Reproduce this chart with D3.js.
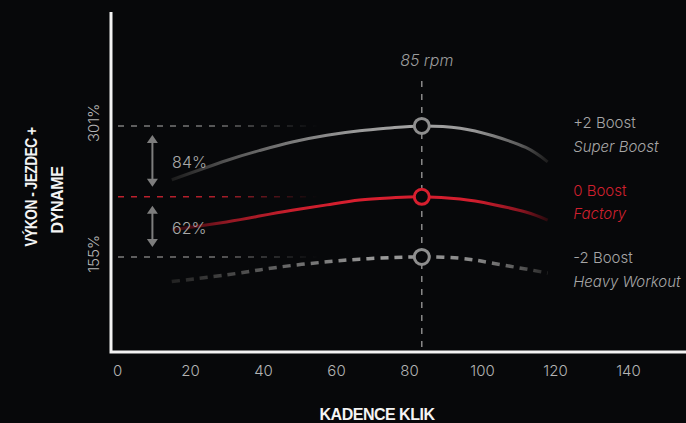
<!DOCTYPE html>
<html><head><meta charset="utf-8">
<script src="https://cdn.jsdelivr.net/npm/d3@7"></script>
<style>
html,body{margin:0;padding:0;background:#07080a;}
svg{display:block;}
</style></head><body>
<script>
// ---- data ----
const cadence      = [15, 30, 39, 48, 57.5, 66.5, 75.5, 83.5, 94, 103, 112, 118];
const superBoost   = [241, 262.5, 273.5, 283, 290.5, 295.5, 299, 301, 298.5, 290, 277, 261];
const factory      = [185, 194, 200.5, 207, 213, 218.5, 221, 222, 219.5, 213.5, 205, 196];
const heavyWorkout = [127.5, 135, 140.5, 145.5, 149.5, 152.5, 154.2, 155, 153.5, 148, 141.5, 137];
const xTicks = [0, 20, 40, 60, 80, 100, 120, 140];
const yTicks = [301, 155];
const yTickLabels = ["301%", "155%"];
const refLevels = [301, 222, 155];
const peakCadence = 83.5;
const peakLabel = "85 rpm";
const gapFrom = [301, 222];
const gapTo = [222, 155];
const gapLabels = ["84%", "62%"];
const legendTop = ["+2 Boost", "0 Boost", "-2 Boost"];
const legendSub = ["Super Boost", "Factory", "Heavy Workout"];
const xTitle = "KADENCE KLIK";
const yTitle = ["VÝKON - JEZDEC +", "DYNAME"];

// ---- layout ----
const W = 686, H = 423;
const BG = "#07080a";
const GRAY = "#8e8e8e", RED = "#d81f2f";
const LIGHT = "Inter, 'Open Sans', Roboto, sans-serif";
const BOLD = "'Liberation Sans', Arial, sans-serif";

const x = d3.scaleLinear().domain([0, 140]).range([117, 628]);
const y = d3.scaleLinear().domain([49, 428]).range([352, 12]);
const frameLeft = 111;

const svg = d3.select("body").append("svg").attr("width", W).attr("height", H)
  .style("background", BG);
const defs = svg.append("defs");

function grad(id, x1, x2, stops) {
  const g = defs.append("linearGradient").attr("id", id)
    .attr("gradientUnits", "userSpaceOnUse")
    .attr("x1", x1).attr("x2", x2).attr("y1", 0).attr("y2", 0);
  stops.forEach(s => g.append("stop").attr("offset", s[0])
    .attr("stop-color", s[1]).attr("stop-opacity", s[2] == null ? 1 : s[2]));
}

// reference dashed lines
const refX1 = x(0) + 1, refX2 = x(55);
grad("refGray", refX1, refX2, [[0, "#7c7c7c"], [0.5, "#7c7c7c", 0.9], [1, "#7c7c7c", 0]]);
grad("refRed", refX1, refX2, [[0, "#c0202d"], [0.5, "#c0202d", 0.9], [1, "#c0202d", 0]]);
svg.append("g").selectAll("line").data(refLevels).join("line")
  .attr("x1", refX1).attr("x2", refX2)
  .attr("y1", d => y(d)).attr("y2", d => y(d))
  .attr("stroke", (d, i) => i === 1 ? "url(#refRed)" : "url(#refGray)")
  .attr("stroke-width", 1.5).attr("stroke-dasharray", "6,7");

// vertical peak line
svg.append("line")
  .attr("x1", x(peakCadence)).attr("x2", x(peakCadence))
  .attr("y1", y(351)).attr("y2", y(49))
  .attr("stroke", "#8a8a8a").attr("stroke-width", 1.5).attr("stroke-dasharray", "6,7");

svg.append("text").attr("x", x(peakCadence) + 5).attr("y", 66)
  .attr("text-anchor", "middle").attr("font-family", LIGHT).attr("font-weight", 300)
  .attr("font-style", "italic").attr("font-size", 16).attr("fill", "#9c9c9c")
  .text(peakLabel);

// curves
const cx1 = x(cadence[0]), cx2 = x(cadence[cadence.length - 1]);
grad("gTop", cx1, cx2, [[0, "#1c1c1c"], [0.15, "#555"], [0.32, "#7a7a7a"], [0.5, "#9a9a9a"],
  [0.65, "#a4a4a4"], [0.8, "#989898"], [0.93, "#5a5a5a"], [1, "#1c1c1c"]]);
grad("gRed", cx1, cx2, [[0, "#2a080c"], [0.05, "#4a0c14"], [0.15, "#921823"], [0.32, "#c81e2c"],
  [0.5, "#d81f2f"], [0.8, "#d21e2e"], [0.93, "#8a1420"], [1, "#2a0a0e"]]);
grad("gLow", cx1, cx2, [[0, "#222"], [0.15, "#444"], [0.32, "#6a6a6a"], [0.55, "#9a9a9a"],
  [0.8, "#8a8a8a"], [0.93, "#555"], [1, "#262626"]]);

const line = d3.line().x(d => x(d[0])).y(d => y(d[1])).curve(d3.curveNatural);
const series = [
  {vals: superBoost, stroke: "url(#gTop)", dash: null, mark: GRAY},
  {vals: factory, stroke: "url(#gRed)", dash: null, mark: RED},
  {vals: heavyWorkout, stroke: "url(#gLow)", dash: "8,6", mark: GRAY}
];
series.forEach(s => {
  svg.append("path").datum(cadence.map((c, i) => [c, s.vals[i]]))
    .attr("d", line).attr("fill", "none").attr("stroke", s.stroke)
    .attr("stroke-width", s.dash ? 3.5 : 3).attr("stroke-dasharray", s.dash)
    .attr("stroke-linecap", "butt");
});
// peak markers
svg.append("g").selectAll("circle").data(series).join("circle")
  .attr("cx", x(peakCadence))
  .attr("cy", s => y(s.vals[cadence.indexOf(peakCadence)]))
  .attr("r", 7.5).attr("fill", BG).attr("stroke", s => s.mark).attr("stroke-width", 3);

// gap arrows
const ax = x(9.7);
gapFrom.forEach((f, i) => {
  const t = gapTo[i];
  const y1 = y(f) + 9, y2 = y(t) - 10;
  const g = svg.append("g").attr("fill", "#7d7d7d");
  g.append("line").attr("x1", ax).attr("x2", ax).attr("y1", y1 + 6).attr("y2", y2 - 6)
    .attr("stroke", "#7d7d7d").attr("stroke-width", 2);
  g.append("path").attr("d", `M${ax},${y1}L${ax + 5.5},${y1 + 8}L${ax - 5.5},${y1 + 8}Z`);
  g.append("path").attr("d", `M${ax},${y2}L${ax + 5.5},${y2 - 8}L${ax - 5.5},${y2 - 8}Z`);
  svg.append("text").attr("x", x(15.1)).attr("y", (y(f) + y(t)) / 2).attr("dy", "0.42em")
    .attr("font-family", LIGHT).attr("font-weight", 300).attr("font-size", 16)
    .attr("fill", "#a8a8a8").text(gapLabels[i]);
});

// legend
const legendY = [128, 195.5, 263];
legendTop.forEach((t, i) => {
  const col = i === 1 ? "#d0202e" : "#a6a6a6";
  svg.append("text").attr("x", x(125)).attr("y", legendY[i])
    .attr("font-family", LIGHT).attr("font-weight", 300).attr("font-size", 15)
    .attr("fill", col).text(t);
  svg.append("text").attr("x", x(125)).attr("y", legendY[i] + 23.5)
    .attr("font-family", LIGHT).attr("font-weight", 300).attr("font-style", "italic")
    .attr("font-size", 15).attr("fill", col).text(legendSub[i]);
});

// x axis
const xAxis = svg.append("g").attr("transform", `translate(0,${y(49)})`)
  .call(d3.axisBottom(x).tickValues(xTicks).tickSize(0).tickPadding(13.4).tickFormat(d3.format("d")));
xAxis.select(".domain").remove();
xAxis.selectAll("text").attr("font-family", LIGHT).attr("font-weight", 300)
  .attr("font-size", 15).attr("fill", "#b4b4b4");

// y tick labels (rotated)
svg.append("g").selectAll("text").data(yTicks).join("text")
  .attr("transform", d => `translate(99,${y(d) - 3}) rotate(-90)`)
  .attr("text-anchor", "middle").attr("font-family", LIGHT).attr("font-weight", 300)
  .attr("font-size", 15).attr("fill", "#b4b4b4")
  .text((d, i) => yTickLabels[i]);

// frame
svg.append("path")
  .attr("d", `M${frameLeft},${y.range()[1]}V${y.range()[0]}H${W}`)
  .attr("fill", "none").attr("stroke", "#f2f2f2").attr("stroke-width", 3);

// titles
svg.append("text").attr("x", 377).attr("y", 420).attr("text-anchor", "middle")
  .attr("font-family", BOLD).attr("font-weight", 700).attr("font-size", 16)
  .attr("letter-spacing", -0.5).attr("fill", "#f4f4f4").text(xTitle);
svg.append("text").attr("transform", "translate(37,187) rotate(-90)").attr("text-anchor", "middle")
  .attr("font-family", BOLD).attr("font-weight", 700).attr("font-size", 16)
  .attr("letter-spacing", -0.6)
  .attr("textLength", 119).attr("lengthAdjust", "spacingAndGlyphs")
  .attr("fill", "#f4f4f4").text(yTitle[0]);
svg.append("text").attr("transform", "translate(63,200) rotate(-90)").attr("text-anchor", "middle")
  .attr("font-family", BOLD).attr("font-weight", 700).attr("font-size", 16)
  .attr("letter-spacing", -0.4).attr("fill", "#f4f4f4").text(yTitle[1]);
</script>
</body></html>
